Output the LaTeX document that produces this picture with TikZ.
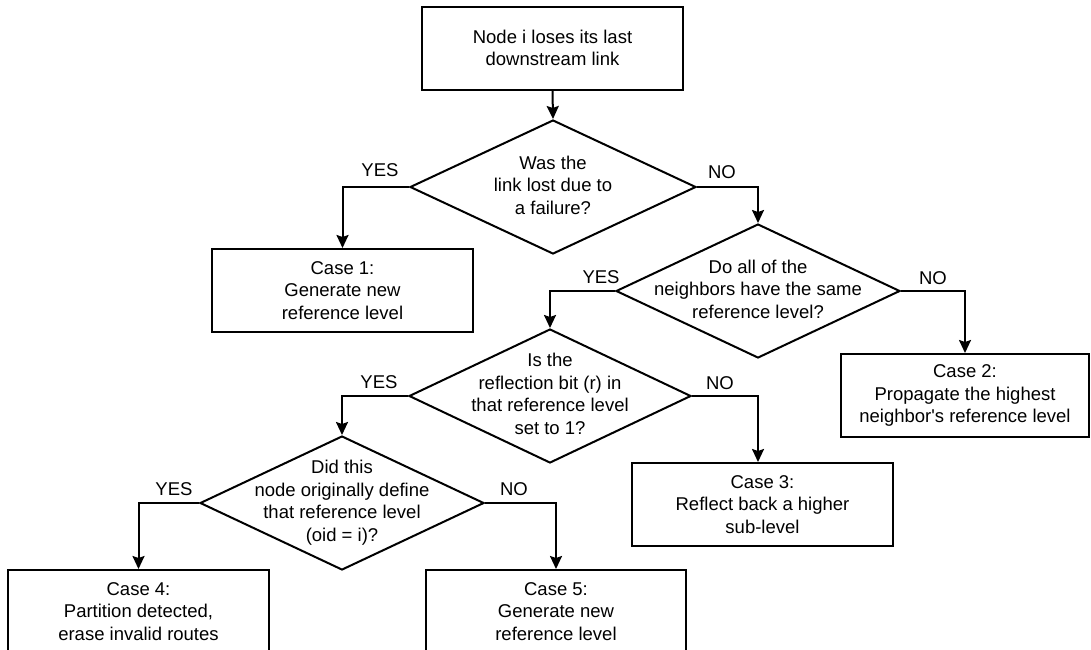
\documentclass[tikz,border=0pt]{standalone}
\usepackage{fontspec}
% a family without TeX ligatures keeps the straight apostrophe
\newfontfamily\diagfont{Liberation Sans}
\usetikzlibrary{shapes.geometric,arrows.meta}
% centred multi-line text that takes no width, so the diamond keeps its set size
\newcommand{\dtext}[1]{\makebox[0pt]{\begin{tabular}{@{}c@{}}#1\end{tabular}}}
\begin{document}
\begin{tikzpicture}[x=1pt,y=-1pt,
  every node/.style={font=\diagfont\fontsize{18.5}{22.5}\selectfont},
  box/.style={draw, line width=2pt, minimum height=83pt, align=center, inner sep=0pt},
  decision/.style={draw, diamond, line width=2pt, inner sep=0pt, minimum height=134pt},
  flow/.style={line width=2pt, -{Stealth[length=13pt,width=12pt,inset=2pt]}},
  answer/.style={inner sep=0pt}
]
\fill[white] (0,0) rectangle (1091,649);
\useasboundingbox (0,0) rectangle (1091,649);

% process boxes
\node[box, minimum width=261pt] (start) at (552.5,48) {Node i loses its last\\downstream link};
\node[box, minimum width=261pt] (c1) at (342.5,290.5) {Case 1:\\Generate new\\reference level};
\node[box, minimum width=248pt] (c2) at (965,395.5) {Case 2:\\Propagate the highest\\neighbor's reference level};
\node[box, minimum width=261pt] (c3) at (762.5,504.5) {Case 3:\\Reflect back a higher\\sub-level};
\node[box, minimum width=261pt] (c4) at (138.5,611.5) {Case 4:\\Partition detected,\\erase invalid routes};
\node[box, minimum width=260pt] (c5) at (556,611.5) {Case 5:\\Generate new\\reference level};

% decisions
\node[decision, minimum width=286pt] (d1) at (553,187) {\dtext{Was the\\link lost due to\\a failure?}};
\node[decision, minimum width=284pt] (d2) at (758,291) {\dtext{Do all of the\\neighbors have the same\\reference level?}};
\node[decision, minimum width=282pt] (d3) at (550,396) {\dtext{Is the\\reflection bit (r) in\\that reference level\\set to 1?}};
\node[decision, minimum width=284pt] (d4) at (342,503) {\dtext{Did this\\node originally define\\that reference level\\(oid = i)?}};

% connectors
\draw[flow] (start.south) -- (d1.north);
\draw[flow] (d1.west) -| (c1.north);
\draw[flow] (d1.east) -| (d2.north);
\draw[flow] (d2.west) -| (d3.north);
\draw[flow] (d2.east) -| (c2.north);
\draw[flow] (d3.west) -| (d4.north);
\draw[flow] (d3.east) -| (c3.north -| d2.center);
\draw[flow] (d4.west) -| (c4.north);
\draw[flow] (d4.east) -| (c5.north);

% branch labels
\node[answer] (y1) at (380,170) {YES};
\node[answer] (n1) at (722,172) {NO};
\node[answer] (y2) at (601,277) {YES};
\node[answer] (n2) at (933,278) {NO};
\node[answer] (y3) at (379,382) {YES};
\node[answer] (n3) at (720,383) {NO};
\node[answer] (y4) at (174,489) {YES};
\node[answer] (n4) at (514,489) {NO};
\end{tikzpicture}
\end{document}
